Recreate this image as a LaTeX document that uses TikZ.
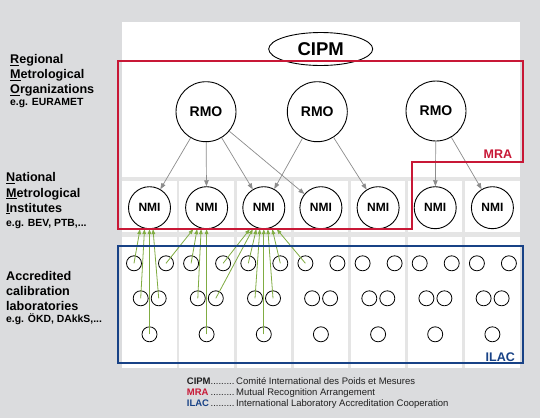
\documentclass[tikz,border=0pt]{standalone}
\usepackage{fontspec}
\setmainfont{Liberation Sans}
\usetikzlibrary{arrows.meta}
\usetikzlibrary{shapes}
\definecolor{bggrey}{RGB}{219,220,222}
\definecolor{gapgrey}{RGB}{229,229,229}
\definecolor{mrared}{RGB}{200,24,54}
\definecolor{ilacblue}{RGB}{24,66,134}
\definecolor{accgreen}{RGB}{128,172,66}
\definecolor{arrgrey}{RGB}{140,140,140}
\newcommand{\legdots}{\leaders\hbox{.}\hfill}
\tikzset{
  rmo/.style={draw, line width=0.9, circle, minimum size=60, inner sep=0pt, font=\fontsize{14}{16}\selectfont\bfseries},
  nmi/.style={draw, line width=0.9, circle, minimum size=42, inner sep=0pt, font=\fontsize{12}{14}\selectfont\bfseries},
  lab/.style={draw, line width=0.8, circle, minimum size=15, inner sep=0pt},
  tonmi/.style={draw=arrgrey, line width=0.7, -{Triangle[length=6pt,width=4.5pt]}},
  accr/.style={draw=accgreen, line width=0.8, -{Triangle[length=5pt,width=3.6pt]}},
  sidetext/.style={anchor=base west, inner sep=0pt, font=\fontsize{12.6}{15}\selectfont\bfseries},
  egtext/.style={anchor=base west, inner sep=0pt, font=\fontsize{10.4}{12}\selectfont\bfseries},
  legtext/.style={anchor=base west, inner sep=0pt, text=black!88, font=\fontsize{9.5}{11}\selectfont}
}

\begin{document}
\begin{tikzpicture}[x=1pt,y=1pt,yscale=-1,xscale=1]
\useasboundingbox (0,0) rectangle (540,418);

%Background
\fill[bggrey] (0,0) rectangle (540,418);
\fill[gapgrey] (122.3,21.7) rectangle (519.6,367.5);
\fill[white] (122.3,21.7) rectangle (519.6,177);

%Columns, NMIs and calibration laboratories
\foreach \c/\x in {1/149.5,2/206.6,3/263.8,4/320.9,5/378.1,6/435.2,7/492.4} {
  \fill[white] (\x-27.2,180.5) rectangle (\x+27.2,232);
  \fill[white] (\x-27.2,236.5) rectangle (\x+27.2,367.5);
  \node[nmi] (n\c) at (\x,207.7) {NMI};
  \node[lab] (l\c-1) at (\x-15.5,263.3) {};
  \node[lab] (l\c-2) at (\x+16.5,263.3) {};
  \node[lab] (l\c-3) at (\x-8.8,298.3) {};
  \node[lab] (l\c-4) at (\x+9.2,298.3) {};
  \node[lab] (l\c-5) at (\x,334.3) {};
}

%Shape: Ellipse
\node[draw, line width=0.9, ellipse, minimum width=104, minimum height=33, inner sep=0pt, font=\fontsize{18.5}{20}\selectfont\bfseries] (cipm) at (320.7,49) {CIPM};

%RMOs
\node[rmo] (r1) at (206,111.7) {RMO};
\node[rmo] (r2) at (317.3,111.7) {RMO};
\node[rmo] (r3) at (436,111) {RMO};

%RMO to NMI
\foreach \a/\b in {r1/n1,r1/n2,r1/n3,r1/n4,r2/n3,r2/n5,r3/n6,r3/n7}
  \draw[tonmi] (\a) -- (\b);

%Laboratories to NMI
\foreach \a/\b/\d in {l1-1/n1/-9.5,l1-3/n1/-5,l1-5/n1/0,l1-4/n1/3.5,
                      l1-2/n2/-13.3,l2-1/n2/-9.5,l2-3/n2/-5.5,l2-5/n2/0,
                      l2-2/n3/-14,l2-4/n3/-11,l3-1/n3/-7.5,l3-3/n3/-4,
                      l3-5/n3/0,l3-4/n3/4,l3-2/n3/8.5,l4-1/n3/13}
  \draw[accr] (\a.center) -- ([xshift=\d]\b.south);

%MRA and ILAC
\draw[mrared, line width=1.8] (118.3,61) -- (523,61) -- (523,161.7) -- (411.7,161.7) -- (411.7,229) -- (118.3,229) -- cycle;
\draw[ilacblue, line width=1.8] (118.3,246) rectangle (523,362.7);
\node[anchor=base east, inner sep=0pt, text=mrared, font=\fontsize{12.5}{14}\selectfont\bfseries] (mra) at (512.3,158.3) {MRA};
\node[anchor=base east, inner sep=0pt, text=ilacblue, font=\fontsize{12.5}{14}\selectfont\bfseries] (ilac) at (515,361.5) {ILAC};

% Text Node
\node[sidetext] (rmo1) at (10,63.3) {\underline{R}egional};
\node[sidetext] (rmo2) at (10,78.6) {\underline{M}etrological};
\node[sidetext] (rmo3) at (10,93.6) {\underline{O}rganizations};
\node[egtext] (rmo4) at (10,105.9) {e.g. EURAMET};
% Text Node
\node[sidetext] (nmi1) at (6,181.7) {\underline{N}ational};
\node[sidetext] (nmi2) at (6,197.1) {\underline{M}etrological};
\node[sidetext] (nmi3) at (6,212.2) {\underline{I}nstitutes};
\node[egtext] (nmi4) at (6,226.7) {e.g. BEV, PTB,...};
% Text Node
\node[sidetext] (acc1) at (6,280) {Accredited};
\node[sidetext] (acc2) at (6,295) {calibration};
\node[sidetext] (acc3) at (6,310) {laboratories};
\node[egtext] (acc4) at (6,322.7) {e.g. ÖKD, DAkkS,...};

% Legend
\node[legtext] (kcipm) at (186.7,384.3) {\makebox[48.5pt][l]{\textbf{CIPM}\legdots}};
\node[legtext] (dcipm) at (236,384.3) {Comité International des Poids et Mesures};
\node[legtext] (kmra) at (186.7,395.2) {\makebox[48.5pt][l]{\textcolor{mrared}{\textbf{MRA}}\,\legdots}};
\node[legtext] (dmra) at (236,395.2) {Mutual Recognition Arrangement};
\node[legtext] (kilac) at (186.7,406) {\makebox[48.5pt][l]{\textcolor{ilacblue}{\textbf{ILAC}}\,\legdots}};
\node[legtext] (dilac) at (236,406) {International Laboratory Accreditation Cooperation};

\end{tikzpicture}
\end{document}
